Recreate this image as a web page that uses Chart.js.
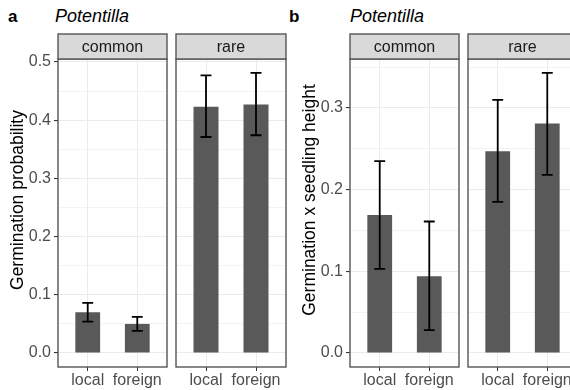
<!DOCTYPE html>
<html>
<head>
<meta charset="utf-8">
<script src="https://cdn.jsdelivr.net/npm/chart.js@4.4.1/dist/chart.umd.min.js"></script>
<style>
  html, body { margin: 0; padding: 0; background: #fff; }
  #wrap { position: relative; width: 570px; height: 390px; overflow: hidden; font-family: "Liberation Sans", Arial, sans-serif; }
  .pane { position: absolute; top: 0; height: 390px; }
  .tag { position: absolute; top: 7px; font-size: 17px; font-weight: bold; color: #000; }
  .sp { position: absolute; top: 6px; font-size: 18px; font-style: italic; color: #000; }
</style>
</head>
<body>
<div id="wrap">
  <div class="tag" style="left:8px">a</div>
  <div class="sp" style="left:55px">Potentilla</div>
  <div class="tag" style="left:289px">b</div>
  <div class="sp" style="left:350px">Potentilla</div>

  <div class="pane" style="left:0;width:170px"><canvas id="a1" width="170" height="390"></canvas></div>
  <div class="pane" style="left:170px;width:120px"><canvas id="a2" width="120" height="390"></canvas></div>
  <div class="pane" style="left:290px;width:172px"><canvas id="b1" width="172" height="390"></canvas></div>
  <div class="pane" style="left:462px;width:120px"><canvas id="b2" width="120" height="390"></canvas></div>
</div>

<script>
// data
const origins = ['local', 'foreign'];
const facets = ['common', 'rare'];

const germCommon   = [0.070, 0.050];
const germCommonLo = [0.054, 0.038];
const germCommonHi = [0.086, 0.062];
const germRare     = [0.423, 0.427];
const germRareLo   = [0.371, 0.374];
const germRareHi   = [0.477, 0.481];

const heightCommon   = [0.169, 0.094];
const heightCommonLo = [0.103, 0.028];
const heightCommonHi = [0.235, 0.161];
const heightRare     = [0.247, 0.281];
const heightRareLo   = [0.185, 0.218];
const heightRareHi   = [0.310, 0.343];

const yTicksA = [0, 0.1, 0.2, 0.3, 0.4, 0.5];
const yMinorA = [0.05, 0.15, 0.25, 0.35, 0.45];
const yRangeA = [-0.024, 0.505];
const yTicksB = [0, 0.1, 0.2, 0.3];
const yMinorB = [0.05, 0.15, 0.25, 0.35];
const yRangeB = [-0.0172, 0.360];

const FONT = '"Liberation Sans", Arial, sans-serif';
const BORDER = '#555';

// strip, border, error bars, axis title
const facetPlugin = {
  id: 'facet',
  afterDatasetsDraw(chart, args, o) {
    const { ctx, chartArea: a, scales } = chart;
    const xs = scales.x, ys = scales.y;

    // error bars
    ctx.save();
    ctx.strokeStyle = '#000';
    ctx.lineWidth = 1.8;
    const half = xs.getPixelForValue(1.11) - xs.getPixelForValue(1);
    o.lo.forEach((lo, i) => {
      const x = xs.getPixelForValue(i + 1);
      const y0 = ys.getPixelForValue(lo), y1 = ys.getPixelForValue(o.hi[i]);
      ctx.beginPath();
      ctx.moveTo(x, y0); ctx.lineTo(x, y1);
      ctx.moveTo(x - half, y0); ctx.lineTo(x + half, y0);
      ctx.moveTo(x - half, y1); ctx.lineTo(x + half, y1);
      ctx.stroke();
    });

    // panel border
    ctx.strokeStyle = BORDER;
    ctx.lineWidth = 1.4;
    ctx.strokeRect(a.left, a.top, a.right - a.left, a.bottom - a.top);

    // strip
    ctx.fillStyle = '#d9d9d9';
    ctx.fillRect(a.left, 34, a.right - a.left, a.top - 34);
    ctx.strokeRect(a.left, 34, a.right - a.left, a.top - 34);
    ctx.fillStyle = '#1a1a1a';
    ctx.font = '16px ' + FONT;
    ctx.textAlign = 'center';
    ctx.textBaseline = 'middle';
    ctx.fillText(o.facet, (a.left + a.right) / 2, (34 + a.top) / 2 + 1);

    // y title
    if (o.title) {
      ctx.translate(o.titleX, 200);
      ctx.rotate(-Math.PI / 2);
      ctx.fillStyle = '#000';
      ctx.font = '17.5px ' + FONT;
      ctx.fillText(o.title, 0, 0);
    }
    ctx.restore();
  }
};

function makePanel(id, p) {
  const allTicks = p.yTicks.map(v => ({ value: v }))
    .concat(p.yMinor.map(v => ({ value: v, minor: true })))
    .sort((u, w) => u.value - w.value);

  return new Chart(document.getElementById(id), {
    type: 'bar',
    data: {
      datasets: [{
        data: p.values.map((v, i) => ({ x: i + 1, y: v })),
        backgroundColor: '#595959',
        borderWidth: 0,
        barPercentage: 0.5,
        categoryPercentage: 1
      }]
    },
    options: {
      responsive: false,
      animation: false,
      devicePixelRatio: 1,
      layout: { padding: { top: 59, left: p.padL, right: p.padR, bottom: 0 } },
      scales: {
        x: {
          type: 'linear',
          min: 0.4, max: 2.6,
          offset: false,
          afterBuildTicks: s => { s.ticks = origins.map((o, i) => ({ value: i + 1 })); },
          afterFit: s => { s.height = 23; },
          border: { display: false },
          grid: { offset: false, color: '#ebebeb', lineWidth: 1, tickColor: '#333', tickLength: 4 },
          ticks: {
            callback: (v, i) => origins[i],
            color: '#4d4d4d',
            font: { family: FONT, size: 16 },
            padding: 0,
            maxRotation: 0, minRotation: 0, autoSkip: false
          }
        },
        y: {
          type: 'linear',
          min: p.yRange[0], max: p.yRange[1],
          afterBuildTicks: s => { s.ticks = allTicks.map(t => ({ ...t })); },
          afterFit: s => { s.width = p.axisW; },
          border: { display: false },
          grid: {
            color: '#ebebeb',
            lineWidth: c => (c.tick && c.tick.minor ? 0.6 : 1.1),
            drawTicks: p.showY,
            tickLength: 4,
            tickColor: c => (c.tick && c.tick.minor ? 'rgba(0,0,0,0)' : '#333')
          },
          ticks: {
            display: p.showY,
            callback: (v, i, t) => (t[i].minor ? '' : v.toFixed(1)),
            color: '#4d4d4d',
            font: { family: FONT, size: 16 },
            padding: 3
          }
        }
      },
      plugins: {
        legend: { display: false },
        tooltip: { enabled: false },
        facet: { facet: p.facet, lo: p.lo, hi: p.hi, title: p.title, titleX: p.titleX }
      }
    },
    plugins: [facetPlugin]
  });
}

makePanel('a1', { facet: facets[0], values: germCommon, lo: germCommonLo, hi: germCommonHi,
  yTicks: yTicksA, yMinor: yMinorA, yRange: yRangeA, showY: true, axisW: 58, padL: 0, padR: 3,
  title: 'Germination probability', titleX: 18 });
makePanel('a2', { facet: facets[1], values: germRare, lo: germRareLo, hi: germRareHi,
  yTicks: yTicksA, yMinor: yMinorA, yRange: yRangeA, showY: false, axisW: 0, padL: 6, padR: 4 });
makePanel('b1', { facet: facets[0], values: heightCommon, lo: heightCommonLo, hi: heightCommonHi,
  yTicks: yTicksB, yMinor: yMinorB, yRange: yRangeB, showY: true, axisW: 60, padL: 0, padR: 3,
  title: 'Germination x seedling height', titleX: 20 });
makePanel('b2', { facet: facets[1], values: heightRare, lo: heightRareLo, hi: heightRareHi,
  yTicks: yTicksB, yMinor: yMinorB, yRange: yRangeB, showY: false, axisW: 0, padL: 6, padR: 5 });
</script>
</body>
</html>
